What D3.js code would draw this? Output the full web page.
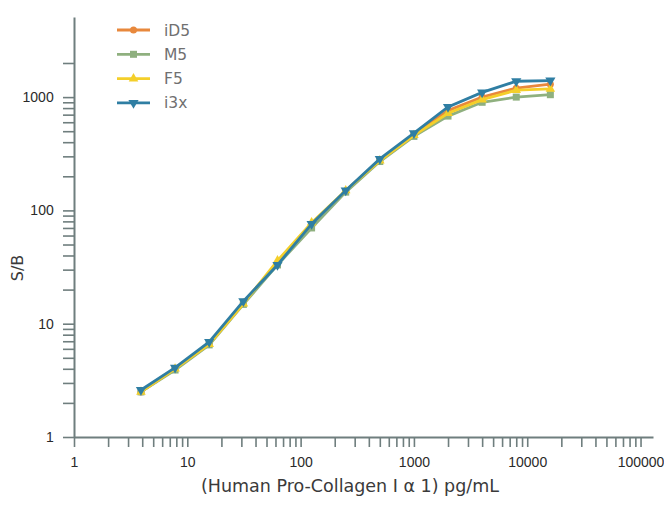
<!DOCTYPE html>
<html>
<head>
<meta charset="utf-8">
<script src="https://cdn.jsdelivr.net/npm/d3@7"></script>
<style>
  body { margin: 0; background: #fff; }
  svg { font-family: "Lato", "DejaVu Sans", sans-serif; }
</style>
</head>
<body>
<svg width="664" height="511"></svg>
<script>
// concentrations (pg/mL) and S/B per instrument
let conc = [3.9, 7.8, 15.6, 31.25, 62.5, 125, 250, 500, 1000, 2000, 4000, 8000, 16000];
let iD5 = [2.5, 4.0, 6.7, 15.5, 34, 73, 148, 280, 470, 760, 1000, 1200, 1300];
let M5  = [2.5, 3.9, 6.5, 14.8, 33, 70, 145, 270, 450, 680, 900, 1000, 1050];
let F5  = [2.5, 4.0, 6.6, 15.0, 36, 78, 150, 275, 460, 720, 950, 1150, 1180];
let i3x = [2.6, 4.1, 6.9, 15.8, 33, 76, 150, 285, 480, 820, 1100, 1380, 1400];

let seriesNames = ["iD5", "M5", "F5", "i3x"];
let seriesColors = ["#e8883c", "#8fb07f", "#f4cf2a", "#2f7ea3"];
let seriesValues = [iD5, M5, F5, i3x];

let xTickLabels = ["1", "10", "100", "1000", "10000", "100000"];
let yTickLabels = ["1", "10", "100", "1000"];

let svg = d3.select('svg');
let axisColor = "#6f7e7e";

let x = d3.scaleLog().domain([1, Math.pow(10, 5.11)]).range([74, 653]);
let y = d3.scaleLog().domain([1, Math.pow(10, 3.707)]).range([437, 17]);

// minor + major ticks
let xTicks = [];
for (let d = 1; d <= 10000; d *= 10) for (let m = 1; m <= 9; m++) xTicks.push(d * m);
xTicks.push(100000);
let yTicks = [];
for (let d = 1; d <= 100; d *= 10) for (let m = 1; m <= 9; m++) yTicks.push(d * m);
yTicks.push(1000, 2000);

let xAxis = svg.append('g').attr('transform', 'translate(0,437)')
  .call(d3.axisBottom(x).tickValues(xTicks).tickSize(10).tickSizeOuter(0)
    .tickFormat(d => xTickLabels.includes(String(d)) ? String(d) : ""));
let yAxis = svg.append('g').attr('transform', 'translate(74,0)')
  .call(d3.axisLeft(y).tickValues(yTicks).tickSize(11).tickSizeOuter(0)
    .tickFormat(d => yTickLabels.includes(String(d)) ? String(d) : ""));

[xAxis, yAxis].forEach(function(g) {
  g.select('.domain').attr('stroke', axisColor).attr('stroke-width', 2);
  g.selectAll('.tick line').attr('stroke', axisColor).attr('stroke-width', 1.6);
  g.selectAll('.tick text').attr('fill', '#2a2a2a').style('font-size', '14px');
});
xAxis.selectAll('.tick text').attr('dy', '1.2em');
yAxis.selectAll('.tick text').attr('dx', '-0.45em');

// axis titles
svg.append('text').attr('x', 350).attr('y', 492).attr('text-anchor', 'middle')
  .attr('fill', '#3a3a3a').style('font-family', '"DejaVu Sans", sans-serif').style('font-size', '17.5px')
  .text('(Human Pro-Collagen I α 1) pg/mL');
svg.append('text').attr('transform', 'translate(23,268) rotate(-90)')
  .attr('text-anchor', 'middle').attr('fill', '#3a3a3a')
  .style('font-family', '"DejaVu Sans", sans-serif').style('font-size', '16px')
  .text('S/B');

let line = d3.line().x((d, i) => x(conc[i])).y(d => y(d));

function marker(g, name, color, cx, cy) {
  if (name == "iD5") {
    g.append('circle').attr('cx', cx).attr('cy', cy).attr('r', 3.5).attr('fill', color);
  } else if (name == "M5") {
    g.append('rect').attr('x', cx - 3.5).attr('y', cy - 3.5).attr('width', 7).attr('height', 7).attr('fill', color);
  } else if (name == "F5") {
    g.append('path').attr('transform', 'translate(' + cx + ',' + cy + ')')
      .attr('d', d3.symbol(d3.symbolTriangle, 40)()).attr('fill', color);
  } else {
    g.append('path').attr('transform', 'translate(' + cx + ',' + cy + ') rotate(180)')
      .attr('d', d3.symbol(d3.symbolTriangle, 45)()).attr('fill', color);
  }
}

seriesNames.forEach(function(name, k) {
  let vals = seriesValues[k];
  let color = seriesColors[k];
  let g = svg.append('g');
  g.append('path').datum(vals).attr('d', line).attr('fill', 'none')
    .attr('stroke', color).attr('stroke-width', 2.8);
  vals.forEach((v, i) => marker(g, name, color, x(conc[i]), y(v)));

  // legend
  let ly = 30 + k * 24.3;
  let lg = svg.append('g');
  lg.append('line').attr('x1', 117).attr('x2', 150).attr('y1', ly).attr('y2', ly)
    .attr('stroke', color).attr('stroke-width', 2.8);
  marker(lg, name, color, 133.5, ly);
  lg.append('text').attr('x', 164).attr('y', ly).attr('dy', '0.36em')
    .attr('fill', '#707070').style('font-family', '"DejaVu Sans", sans-serif')
    .style('font-size', '15.5px').text(name);
});
</script>
</body>
</html>
